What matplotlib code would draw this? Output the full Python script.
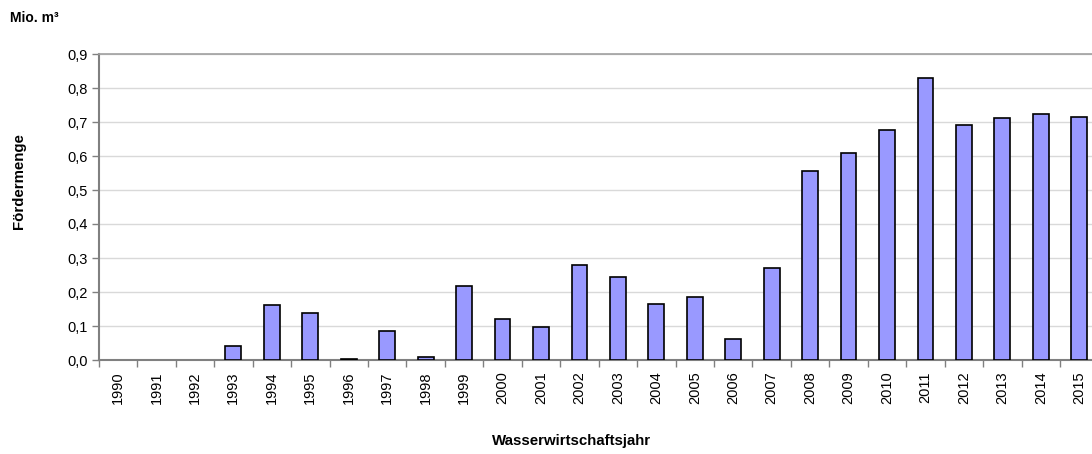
import numpy as np
import matplotlib.pyplot as plt

# ========== DATA ==========

YEARS = [str(y) for y in range(1990, 2016)]
FOERDERMENGE = [
    0.0, 0.0, 0.0, 0.041, 0.161, 0.138, 0.003, 0.086, 0.010, 0.217,
    0.120, 0.098, 0.279, 0.243, 0.166, 0.184, 0.062, 0.272, 0.556, 0.608,
    0.676, 0.830, 0.691, 0.713, 0.724, 0.716,
]
Y_TICKS = [0.0, 0.1, 0.2, 0.3, 0.4, 0.5, 0.6, 0.7, 0.8, 0.9]

BAR_COLOR = '#9999ff'
GRID_COLOR = '#d9d9d9'
AXIS_COLOR = '#808080'

plt.rcParams['font.family'] = ['Liberation Sans', 'DejaVu Sans']

# ========== PLOT ==========

dpi = 100
fig = plt.figure(figsize=(1092 / dpi, 454 / dpi), dpi=dpi)

# plot area runs past the right edge of the picture, like the original
left, right = 98.8 / 1092, 1098.5 / 1092
bottom, top = 1 - 360 / 454, 1 - 54 / 454
ax = fig.add_axes([left, bottom, right - left, top - bottom])

x = np.arange(len(YEARS))
# empty years get no outline at all
edge_widths = [1.2 if v > 0 else 0 for v in FOERDERMENGE]
ax.bar(x, FOERDERMENGE, width=0.41, color=BAR_COLOR, edgecolor='black',
       linewidth=edge_widths, zorder=3)

ax.set_xlim(-0.5, len(YEARS) - 0.5)
ax.set_ylim(0, 0.9)

# y axis
ax.set_yticks(Y_TICKS)
ax.set_yticklabels([f"{v:.1f}".replace('.', ',') for v in Y_TICKS], fontsize=10.5)
ax.yaxis.grid(True, color=GRID_COLOR, linewidth=1, zorder=0)
ax.tick_params(axis='y', direction='out', length=5, width=1, color=AXIS_COLOR, pad=3)

# x axis: labels at bar centres, tick marks between categories
ax.set_xticks(x)
ax.set_xticklabels(YEARS, rotation=90, fontsize=10.5)
ax.tick_params(axis='x', which='major', length=0, pad=8)
ax.set_xticks(np.arange(-0.5, len(YEARS), 1), minor=True)
ax.tick_params(axis='x', which='minor', direction='out', length=5, width=1, color=AXIS_COLOR)

ax.spines['right'].set_visible(False)
ax.spines['left'].set_color(AXIS_COLOR)
ax.spines['left'].set_linewidth(1.5)
ax.spines['bottom'].set_color(AXIS_COLOR)
ax.spines['bottom'].set_linewidth(1.5)
ax.spines['top'].set_color('#a0a0a0')
ax.spines['top'].set_linewidth(1.2)

# labels
fig.text(19 / 1092, 1 - 181 / 454, 'Fördermenge', rotation=90, fontsize=10.8,
         fontweight='bold', ha='center', va='center')
fig.text(572 / 1092, 1 - 441 / 454, 'Wasserwirtschaftsjahr', fontsize=10.8,
         fontweight='bold', ha='center', va='center')
fig.text(10 / 1092, 1 - 18 / 454, 'Mio. m³', fontsize=10,
         fontweight='bold', ha='left', va='center')

fig.savefig('out.png', dpi=dpi)
